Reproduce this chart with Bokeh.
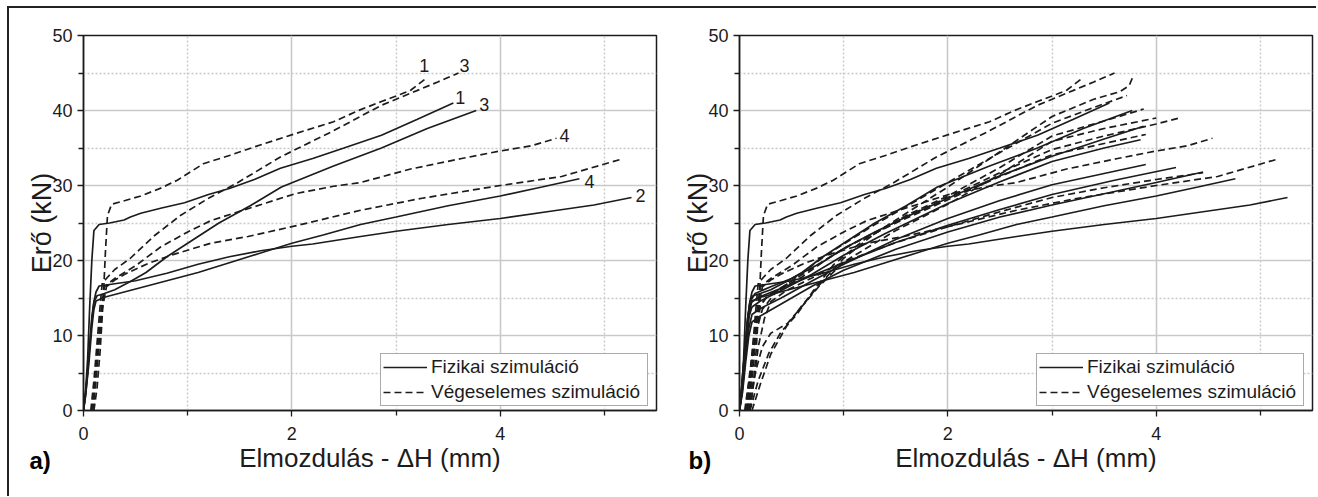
from bokeh.plotting import figure
from bokeh.layouts import row
from bokeh.models import FixedTicker, Legend, LegendItem, Range1d, ColumnDataSource, Title
from bokeh.embed import file_html
from bokeh.resources import INLINE
from bokeh.core.properties import value

# ---------------- data ----------------
x_ticks = [0, 2, 4]
x_minor = [1, 3, 5]
y_ticks = [0, 10, 20, 30, 40, 50]
y_minor = [5, 15, 25, 35, 45]

x_title = "Elmozdulás - ΔH (mm)"
y_title = "Erő (kN)"
legend_labels = ["Fizikai szimuláció", "Végeselemes szimuláció"]
panel_tags = ["a)", "b)"]

# physical simulation (solid) - shown in both panels
fiz1_x = [0, 0.02, 0.04, 0.06, 0.08, 0.10, 0.15, 0.25, 0.39, 0.45, 0.55, 0.75, 0.97, 1.2, 1.4, 1.64, 1.89, 2.2, 2.5, 2.86, 3.2, 3.55]
fiz1_y = [0, 2.5, 7, 14, 20, 24.0, 24.8, 25.0, 25.4, 25.8, 26.3, 27.0, 27.7, 28.8, 29.6, 30.8, 32.3, 33.6, 35.0, 36.7, 38.8, 41.0]
fiz3_x = [0, 0.02, 0.04, 0.06, 0.08, 0.10, 0.13, 0.2, 0.3, 0.45, 0.6, 0.8, 1.0, 1.3, 1.6, 1.9, 2.4, 2.86, 3.3, 3.77]
fiz3_y = [0, 2, 5, 9, 12.5, 14.5, 15.3, 15.6, 16.1, 17.2, 18.4, 20.5, 22.3, 25.0, 27.3, 29.8, 32.6, 35.0, 37.6, 40.0]
fiz4_x = [0, 0.02, 0.05, 0.08, 0.10, 0.12, 0.2, 0.5, 0.8, 1.1, 1.4, 1.7, 2.0, 2.3, 2.66, 3.0, 3.5, 4.0, 4.4, 4.76]
fiz4_y = [0, 2, 6, 11, 13.5, 14.6, 15.1, 16.2, 17.3, 18.4, 19.7, 21.0, 22.3, 23.4, 24.8, 25.8, 27.3, 28.6, 29.8, 30.9]
fiz2_x = [0, 0.02, 0.05, 0.08, 0.10, 0.12, 0.15, 0.3, 0.5, 0.8, 1.1, 1.4, 1.7, 2.0, 2.2, 2.66, 3.0, 3.5, 4.0, 4.5, 4.9, 5.26]
fiz2_y = [0, 2.5, 7, 12, 14.5, 15.8, 16.6, 16.9, 17.3, 18.3, 19.5, 20.5, 21.3, 21.9, 22.2, 23.2, 23.9, 24.8, 25.6, 26.6, 27.4, 28.4]

# finite element simulation (dashed) - shown in both panels
veg1_x = [0.10, 0.13, 0.16, 0.19, 0.21, 0.23, 0.27, 0.40, 0.55, 0.75, 0.9, 1.15, 1.4, 1.63, 2.03, 2.4, 2.64, 2.86, 3.05, 3.14, 3.29]
veg1_y = [0, 3, 8, 15, 21, 26, 27.5, 28.0, 28.6, 29.7, 30.7, 32.9, 34.0, 35.1, 36.9, 38.5, 40.0, 41.2, 42.2, 42.7, 44.3]
veg3_x = [0.07, 0.10, 0.13, 0.16, 0.18, 0.22, 0.30, 0.45, 0.68, 0.93, 1.2, 1.47, 1.89, 2.4, 2.86, 3.14, 3.4, 3.6]
veg3_y = [0, 4, 9, 14, 17, 17.6, 18.8, 20.3, 23.3, 26.0, 28.3, 30.3, 33.8, 37.3, 40.7, 42.3, 43.8, 45.0]
veg4_x = [0.08, 0.11, 0.14, 0.17, 0.20, 0.3, 0.5, 0.74, 1.0, 1.22, 1.6, 2.03, 2.4, 2.66, 3.14, 3.63, 4.0, 4.3, 4.54]
veg4_y = [0, 4, 9, 13.5, 16.5, 17.6, 19.3, 21.8, 23.8, 25.3, 27.0, 28.9, 29.9, 30.4, 32.2, 33.6, 34.6, 35.3, 36.3]
veg2_x = [0.09, 0.12, 0.15, 0.18, 0.22, 0.3, 0.4, 0.62, 0.84, 1.22, 1.58, 2.06, 2.66, 3.25, 4.0, 4.59, 5.16]
veg2_y = [0, 4, 9, 13.5, 16.5, 17.4, 18.2, 19.6, 20.7, 22.3, 23.2, 24.7, 26.7, 28.3, 30.0, 31.2, 33.5]

# additional specimens, panel b only
fiz5_x = [0, 0.02, 0.05, 0.08, 0.1, 0.15, 0.3, 0.5, 0.8, 1.0, 1.3, 1.6, 2.0, 2.5, 3.0, 3.5, 3.88]
fiz5_y = [0, 3, 8, 12.5, 14.5, 15.6, 16.5, 17.6, 19.8, 21.6, 23.8, 25.8, 28.3, 31.3, 33.9, 36.2, 37.9]
fiz6_x = [0, 0.03, 0.06, 0.09, 0.12, 0.2, 0.4, 0.7, 1.0, 1.4, 2.0, 2.5, 3.0, 3.5, 3.85]
fiz6_y = [0, 4, 9, 12.5, 13.8, 14.6, 16.0, 18.2, 20.7, 23.6, 27.6, 30.5, 33.2, 35.0, 36.1]
fiz7_x = [0, 0.03, 0.06, 0.09, 0.12, 0.2, 0.4, 0.7, 1.0, 1.5, 2.0, 2.5, 3.0, 3.5, 3.9]
fiz7_y = [0, 3, 7.5, 11, 12.8, 13.6, 15.0, 17.3, 19.5, 22.8, 25.6, 28.0, 30.1, 31.6, 32.8]
fiz8_x = [0, 0.02, 0.05, 0.08, 0.11, 0.2, 0.4, 0.7, 1.0, 1.5, 2.0, 2.5, 3.0, 3.6, 4.19]
fiz8_y = [0, 3, 8, 12.5, 14.4, 15.2, 16.3, 18.0, 19.7, 22.4, 24.7, 26.8, 28.8, 30.7, 32.4]
fiz9_x = [0, 0.03, 0.06, 0.09, 0.12, 0.2, 0.4, 0.7, 1.0, 1.5, 2.0, 2.5, 3.0, 3.5, 4.0, 4.45]
fiz9_y = [0, 2.5, 6.5, 10, 11.8, 12.6, 14.2, 16.6, 18.7, 21.5, 23.8, 25.8, 27.4, 28.9, 30.4, 31.8]

veg5_x = [0.12, 0.2, 0.3, 0.45, 0.6, 0.75, 1.0, 1.3, 1.6, 2.0, 2.5, 3.0, 3.4, 3.65, 3.74, 3.77]
veg5_y = [0, 3.5, 7.5, 11.2, 14.0, 16.5, 20.3, 23.6, 26.3, 29.8, 34.5, 39.2, 41.5, 42.5, 43.3, 44.3]
veg6_x = [0.05, 0.1, 0.15, 0.22, 0.35, 0.55, 0.8, 1.0, 1.3, 1.6, 2.0, 2.5, 3.0, 3.4, 3.72]
veg6_y = [0, 5, 10, 13.5, 15.8, 17.8, 20.4, 22.2, 24.8, 27.2, 30.4, 34.4, 38.3, 40.4, 42.0]
veg7_x = [0.1, 0.18, 0.28, 0.4, 0.55, 0.71, 0.9, 1.2, 1.6, 2.0, 2.5, 3.0, 3.5, 3.88]
veg7_y = [0, 4, 7.6, 10.5, 12.8, 16.0, 19.4, 22.8, 26.0, 28.6, 32.4, 36.6, 38.6, 40.2]
veg8_x = [0.08, 0.12, 0.17, 0.22, 0.3, 0.46, 0.65, 0.76, 1.0, 1.5, 2.0, 2.5, 3.0, 3.5, 4.0]
veg8_y = [0, 3, 6, 8.5, 10.3, 11.6, 14.7, 16.5, 19.8, 24.0, 27.5, 31.5, 35.9, 37.6, 39.0]
veg9_x = [0.07, 0.11, 0.16, 0.2, 0.28, 0.45, 0.7, 1.0, 1.5, 2.0, 2.5, 3.0, 3.5, 4.0, 4.22]
veg9_y = [0, 5, 10, 14, 15.4, 16.8, 19.0, 21.6, 25.2, 28.4, 31.7, 34.8, 36.6, 38.2, 39.0]
veg10_x = [0.06, 0.1, 0.14, 0.18, 0.25, 0.4, 0.6, 0.85, 1.1, 1.5, 2.0, 2.5, 3.0, 3.5, 3.9]
veg10_y = [0, 5, 10, 13.5, 15.0, 16.2, 17.8, 20.3, 22.3, 25.0, 28.1, 31.2, 34.1, 35.6, 36.8]
veg11_x = [0.1, 0.14, 0.18, 0.24, 0.3, 0.45, 0.7, 1.0, 1.5, 2.0, 2.5, 3.0, 3.5, 4.0, 4.45]
veg11_y = [0, 4, 8.5, 12.3, 14.5, 16.0, 17.7, 19.8, 22.4, 24.5, 26.5, 28.4, 29.7, 30.8, 31.7]

# curve-end labels of panel a
end_labels = ["1", "3", "1", "3", "4", "4", "2"]

# ---------------- styling / geometry ----------------
FONT = "Liberation Sans"
INK = "#1c1c1c"
GRID = "#c9c9c9"
DASH = "7 4"
LW = 1.7
X_MAX, Y_MAX = 5.5, 50
FRAME_W, FRAME_H = 573, 375
TOP, BOTTOM = 35, 86

solid_a = [(fiz1_x, fiz1_y), (fiz3_x, fiz3_y), (fiz4_x, fiz4_y), (fiz2_x, fiz2_y)]
dashed_a = [(veg1_x, veg1_y), (veg3_x, veg3_y), (veg4_x, veg4_y), (veg2_x, veg2_y)]
solid_b = solid_a + [(fiz5_x, fiz5_y), (fiz6_x, fiz6_y), (fiz7_x, fiz7_y), (fiz8_x, fiz8_y), (fiz9_x, fiz9_y)]
dashed_b = dashed_a + [(veg5_x, veg5_y), (veg6_x, veg6_y), (veg7_x, veg7_y), (veg8_x, veg8_y),
                       (veg9_x, veg9_y), (veg10_x, veg10_y), (veg11_x, veg11_y)]

FRAME_LINE = "linear-gradient(#222,#222)"


def make_panel(left, right, solids, dashes, tag, tag_offset, bg):
    p = figure(frame_width=FRAME_W, frame_height=FRAME_H, min_border_left=left, min_border_right=right,
               min_border_top=TOP, min_border_bottom=BOTTOM, x_range=Range1d(0, X_MAX), y_range=Range1d(0, Y_MAX),
               output_backend="svg", toolbar_location=None, title=None,
               styles={"background": bg})
    p.background_fill_color = "white"
    p.border_fill_alpha = 0
    p.outline_line_color = INK
    p.outline_line_width = 1.5

    xt = FixedTicker(ticks=x_ticks, minor_ticks=x_minor)
    yt = FixedTicker(ticks=y_ticks, minor_ticks=y_minor)
    p.xaxis.ticker = xt
    p.yaxis.ticker = yt
    p.xgrid.ticker = xt
    p.ygrid.ticker = yt
    for g in (p.xgrid, p.ygrid):
        g.grid_line_color = GRID
        g.grid_line_width = 1.6
        g.minor_grid_line_color = GRID
        g.minor_grid_line_width = 1.4
        g.minor_grid_line_dash = "2 2"

    for ax in (p.xaxis, p.yaxis):
        ax.axis_line_color = INK
        ax.axis_line_width = 1.5
        ax.major_tick_line_color = INK
        ax.minor_tick_line_color = INK
        ax.major_tick_line_width = 1.3
        ax.minor_tick_line_width = 1.3
        ax.major_tick_in = 0
        ax.major_tick_out = 6
        ax.minor_tick_in = 0
        ax.minor_tick_out = 5
        ax.major_label_text_font = FONT
        ax.major_label_text_font_size = "18px"
        ax.major_label_text_color = INK
        ax.axis_label_text_font = FONT
        ax.axis_label_text_font_style = "normal"
        ax.axis_label_text_color = INK
    p.xaxis.axis_label = x_title
    p.yaxis.axis_label = y_title
    p.xaxis.axis_label_text_font_size = "26px"
    p.yaxis.axis_label_text_font_size = "27px"
    p.xaxis.major_label_standoff = 10
    p.yaxis.major_label_standoff = 5
    p.xaxis.axis_label_standoff = 0
    p.yaxis.axis_label_standoff = -8

    r_s = r_d = None
    for xs, ys in solids:
        r_s = p.line(xs, ys, line_color=INK, line_width=LW)
    for xs, ys in dashes:
        r_d = p.line(xs, ys, line_color=INK, line_width=LW, line_dash=DASH)

    leg = Legend(items=[LegendItem(label=legend_labels[0], renderers=[r_s]),
                        LegendItem(label=legend_labels[1], renderers=[r_d])],
                 location=(FRAME_W - 276, 4))
    leg.label_text_font = FONT
    leg.label_text_font_size = "19px"
    leg.label_text_color = INK
    leg.label_width = 214
    leg.glyph_width = 44
    leg.glyph_height = 20
    leg.label_standoff = 4
    leg.padding = 2
    leg.spacing = 3
    leg.margin = 0
    leg.border_line_color = "#555555"
    leg.border_line_width = 1
    leg.background_fill_color = "white"
    leg.background_fill_alpha = 1
    p.add_layout(leg)

    # panel tag "a)" / "b)" at the lower left, on the line of the x axis title
    p.add_layout(Title(text=tag, align="left", vertical_align="top", offset=tag_offset, standoff=-58,
                       text_font=FONT, text_font_size="24px", text_font_style="bold",
                       text_color="black"), "below")
    return p


bg_a = (f"{FRAME_LINE} 7px 6px / 660px 2px no-repeat, "
        f"{FRAME_LINE} 7px 6px / 2px 500px no-repeat, white")
bg_b = f"{FRAME_LINE} 0px 6px / 660px 2px no-repeat, white"

pa = make_panel(83, 4, solid_a, dashed_a, panel_tags[0], -54, bg_a)
pb = make_panel(79, 4, solid_b, dashed_b, panel_tags[1], -51, bg_b)

# curve-end number labels (panel a), positioned at the end points of the curves
ends = [(veg1_x, veg1_y), (veg3_x, veg3_y), (fiz1_x, fiz1_y), (fiz3_x, fiz3_y),
        (veg4_x, veg4_y), (fiz4_x, fiz4_y), (fiz2_x, fiz2_y)]
lab_src = ColumnDataSource(dict(
    x=[c[0][-1] for c in ends],
    y=[c[1][-1] for c in ends],
    t=end_labels,
    dx=[-2, 6, 7, 8, 8, 10, 9],
    dy=[-13, -8, -6, -6, -3, 3, -2],
))
pa.text(x="x", y="y", text="t", x_offset="dx", y_offset="dy", source=lab_src,
        text_font=value(FONT), text_font_size="18px", text_color=INK,
        text_align="center", text_baseline="middle")

layout = row(pa, pb)

open("out.html", "w").write(file_html(layout, INLINE))
